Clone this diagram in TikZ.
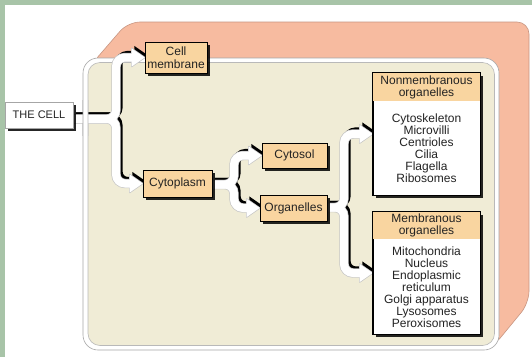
\documentclass[tikz,border=0pt]{standalone}
\usepackage{fontspec}
\setmainfont{Liberation Sans}
\usetikzlibrary{shadows,calc}

\definecolor{frame}{RGB}{168,196,168}
\definecolor{salmon}{RGB}{247,187,160}
\definecolor{salmonline}{RGB}{200,150,130}
\definecolor{panel}{RGB}{240,236,214}
\definecolor{tagfill}{RGB}{249,213,160}
\definecolor{ink}{RGB}{35,35,35}

\pgfdeclarelayer{bg}
\pgfdeclarelayer{links}
\pgfsetlayers{bg,links,main}

% ribbons of all connectors, drawn once per layer style
\newcommand\chartlinks[1]{%
  \draw[#1] (cell.east |- j1) -- (j1) |- (membrane.west);
  \draw[#1] (cell.east |- j1) -- (j1) |- (cytoplasm.west);
  \draw[#1] (cytoplasm.east |- j2) -- (j2) |- (cytosol.west);
  \draw[#1] (cytoplasm.east |- j2) -- (j2) |- (organelles.west);
  \draw[#1] (organelles.east |- j3) -- (j3) |- (nonmem.west);
  \draw[#1] (organelles.east |- j3) -- (j3) |- (mem.west);
}
% wide triangular heads at the connector ends
\newcommand\headat[2]{%
  \path[#1] (#2) -- ++(-13,-9) -- ++(0,18) -- cycle;
}
\newcommand\chartheads[1]{%
  \headat{#1}{membrane.west}
  \headat{#1}{cytoplasm.west}
  \headat{#1}{cytosol.west}
  \headat{#1}{organelles.west}
  \headat{#1}{nonmem.west}
  \headat{#1}{mem.west}
}

\begin{document}
\begin{tikzpicture}[x=1pt,y=-1pt,
  every node/.style={font=\fontsize{12}{12}\selectfont, text=ink, inner sep=0pt},
  boxshadow/.style={drop shadow={shadow xshift=2.5pt, shadow yshift=-2.5pt, fill=black, opacity=0.85}},
  tag/.style={draw=black, line width=0.6pt, fill=tagfill, align=center, boxshadow},
  plainbox/.style={draw=gray!70, line width=0.6pt, fill=white, align=center, boxshadow},
  listbox/.style={draw=black, line width=0.6pt, fill=white, boxshadow,
    minimum width=107pt, minimum height=122pt},
  darkshift/.style={transform canvas={xshift=2.6pt, yshift=2.6pt}},
  linkdark/.style={line width=8pt, draw=black, rounded corners=9pt, shorten >=9pt, darkshift},
  linkedge/.style={line width=9.4pt, draw=gray!45, rounded corners=9pt, shorten >=9pt},
  linkbody/.style={line width=8pt, draw=white, rounded corners=9pt, shorten >=9pt},
  headdark/.style={fill=black, darkshift},
  headedge/.style={fill=gray!45, draw=gray!45, line width=1.4pt, line join=round},
  headbody/.style={fill=white},
]
\useasboundingbox (0,0) rectangle (532,357);

\begin{pgfonlayer}{bg}
  % page and frame strips
  \fill[white] (0,0) rectangle (532,357);
  \fill[frame] (0,0) rectangle (532,4.5);
  \fill[frame] (0,0) rectangle (5,357);
  % extruded back of the cell block
  \filldraw[fill=salmon, draw=salmonline, line width=0.6pt, rounded corners=12pt]
    (90,66) -- (128,22) -- (529,22) -- (529,303) -- (492,348) -- cycle;
  % front panel with its white rim
  \filldraw[fill=white, draw=gray!70, line width=0.6pt, rounded corners=15pt]
    (83,58) rectangle (499,350);
  \filldraw[fill=panel, draw=gray!55, line width=0.6pt, rounded corners=12pt]
    (88,62.5) rectangle (494.5,345.5);
\end{pgfonlayer}

% junction points of the branching connectors
\coordinate (j1) at (116,119);
\coordinate (j2) at (234,184.5);
\coordinate (j3) at (344,207.5);

% nodes
\node[plainbox, minimum width=68pt, minimum height=26pt,
      font=\fontsize{11}{11}\selectfont] (cell) at (39,115) {THE CELL};
\node[tag, minimum width=62pt, minimum height=31pt] (membrane) at (176,57.5)
  {Cell\\[1.5pt]membrane};
\node[tag, minimum width=69pt, minimum height=27pt] (cytoplasm) at (177.5,183.5) {Cytoplasm};
\node[tag, minimum width=65pt, minimum height=25pt] (cytosol) at (294.5,155.5) {Cytosol};
\node[tag, minimum width=67pt, minimum height=26pt] (organelles) at (293.5,208) {Organelles};

% nonmembranous organelles list
\node[listbox] (nonmem) at (426.5,134) {};
\fill[tagfill] (nonmem.north west) rectangle ([yshift=-28pt]nonmem.north east);
\draw[line width=0.6pt] (nonmem.north west) rectangle (nonmem.south east);
\node[align=center] (nonmemhead) at ([yshift=-14.5pt]nonmem.north)
  {Nonmembranous\\organelles};
\node[align=center] (nonmemlist) at (426.5,148.5)
  {Cytoskeleton\\Microvilli\\Centrioles\\Cilia\\Flagella\\Ribosomes};

% membranous organelles list
\node[listbox] (mem) at (426.5,273) {};
\fill[tagfill] (mem.north west) rectangle ([yshift=-27pt]mem.north east);
\draw[line width=0.6pt] (mem.north west) rectangle (mem.south east);
\node[align=center] (memhead) at ([yshift=-14pt]mem.north)
  {Membranous\\organelles};
\node[align=center] (memlist) at (426.5,287.5)
  {Mitochondria\\Nucleus\\Endoplasmic\\reticulum\\Golgi apparatus\\Lysosomes\\Peroxisomes};

% connectors: dark edge, soft outline, white ribbon
\begin{pgfonlayer}{links}
  \chartlinks{linkdark}
  \chartheads{headdark}
  \chartlinks{linkedge}
  \chartheads{headedge}
  \chartlinks{linkbody}
  \chartheads{headbody}
  % the panel rim passes over the first connector
  \begin{scope}
    \clip (76,100) rectangle (94,135);
    \fill[white, even odd rule, rounded corners=15pt]
      (83,58) rectangle (499,350) (88,62.5) rectangle (494.5,345.5);
    \draw[gray!70, line width=0.6pt, rounded corners=15pt] (83,58) rectangle (499,350);
    \draw[gray!55, line width=0.6pt, rounded corners=12pt] (88,62.5) rectangle (494.5,345.5);
  \end{scope}
\end{pgfonlayer}
\end{tikzpicture}
\end{document}
